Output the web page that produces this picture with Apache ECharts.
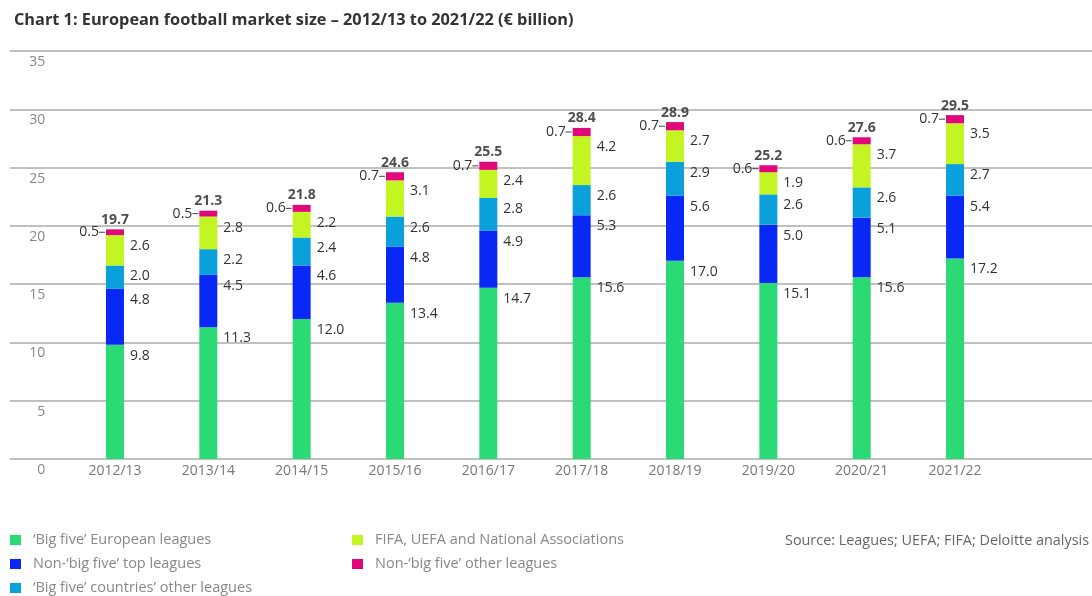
<!DOCTYPE html>
<html>
<head>
<meta charset="utf-8">
<script src="https://cdn.jsdelivr.net/npm/echarts@6/dist/echarts.min.js"></script>
<style>html,body{margin:0;padding:0;background:#fff}#c{width:1092px;height:596px}</style>
</head>
<body>
<div id="c"></div>
<script>
var categories = ['2012/13','2013/14','2014/15','2015/16','2016/17','2017/18','2018/19','2019/20','2020/21','2021/22'];
var bigFive = [9.8, 11.3, 12.0, 13.4, 14.7, 15.6, 17.0, 15.1, 15.6, 17.2];
var nonBigFiveTop = [4.8, 4.5, 4.6, 4.8, 4.9, 5.3, 5.6, 5.0, 5.1, 5.4];
var bigFiveOther = [2.0, 2.2, 2.4, 2.6, 2.8, 2.6, 2.9, 2.6, 2.6, 2.7];
var fifaUefa = [2.6, 2.8, 2.2, 3.1, 2.4, 4.2, 2.7, 1.9, 3.7, 3.5];
var nonBigFiveOther = [0.5, 0.5, 0.6, 0.7, 0.7, 0.7, 0.7, 0.6, 0.6, 0.7];
var totals = [19.7, 21.3, 21.8, 24.6, 25.5, 28.4, 28.9, 25.2, 27.6, 29.5];
var yTicks = [0, 5, 10, 15, 20, 25, 30, 35];

var names = ["\u2018Big five\u2019 European leagues", "Non-\u2018big five\u2019 top leagues", "\u2018Big five\u2019 countries\u2019 other leagues", "FIFA, UEFA and National Associations", "Non-\u2018big five\u2019 other leagues"];
var colors = ['#2bd975', '#0a28f5', '#0aa0dc', '#c3f523', '#e1087a'];
var FONT = '"Open Sans", "Noto Sans", sans-serif';

var sideLabel = {
  show: true,
  position: ['100%', 0],
  align: 'left',
  verticalAlign: 'middle',
  offset: [6, 11],
  fontFamily: FONT,
  fontSize: 14,
  color: '#333',
  formatter: function (p) { return p.value.toFixed(1); }
};

function barSeries(i, data, label) {
  return {
    name: names[i],
    type: 'bar',
    stack: 'total',
    xAxisIndex: 1,
    yAxisIndex: 1,
    barWidth: 18,
    data: data,
    itemStyle: { color: colors[i] },
    label: label,
    emphasis: { disabled: true },
    animation: false
  };
}

var legendCommon = {
  orient: 'vertical',
  top: 531.5,
  padding: 0,
  height: 90,
  itemWidth: 11, itemHeight: 10, itemGap: 7,
  icon: 'rect',
  textStyle: { fontFamily: FONT, fontSize: 14.5, color: '#888', padding: [0, 0, 0, 7], lineHeight: 17 },
  selectedMode: false
};

var chart = echarts.init(document.getElementById('c'), null, { renderer: 'canvas' });
chart.setOption({
  animation: false,
  textStyle: { fontFamily: FONT },
  title: [{
    text: 'Chart 1: European football market size \u2013 2012/13 to 2021/22 (\u20ac billion)',
    left: 9, top: 7,
    textStyle: { fontFamily: FONT, fontSize: 16.3, fontWeight: 'bold', color: '#333' }
  }, {
    text: 'Source: Leagues; UEFA; FIFA; Deloitte analysis',
    left: 780, top: 529,
    textStyle: { fontFamily: FONT, fontSize: 14.4, fontWeight: 'normal', color: '#666' }
  }],
  legend: [
    Object.assign({}, legendCommon, { data: names.slice(0, 3), left: 10 }),
    Object.assign({}, legendCommon, { data: names.slice(3), left: 352 })
  ],
  grid: [
    { left: 10, right: 0, top: 51, bottom: 137 },
    { left: 68.3, right: 90.3, top: 51, bottom: 137 }
  ],
  xAxis: [
    { gridIndex: 0, type: 'value', show: false, min: 0, max: 1 },
    {
      gridIndex: 1, type: 'category', data: categories,
      axisLine: { show: false }, axisTick: { show: false },
      axisLabel: { fontFamily: FONT, fontSize: 14, color: '#777', margin: 5 }
    }
  ],
  yAxis: [
    {
      gridIndex: 0, type: 'value', min: yTicks[0], max: yTicks[yTicks.length - 1], interval: 5,
      axisLine: { show: false }, axisTick: { show: false }, axisLabel: { show: false },
      splitLine: { show: true, lineStyle: { color: '#ababab', width: 1.5 } }
    },
    {
      gridIndex: 1, type: 'value', min: yTicks[0], max: yTicks[yTicks.length - 1], interval: 5,
      axisLine: { show: false }, axisTick: { show: false }, splitLine: { show: false },
      axisLabel: { fontFamily: FONT, fontSize: 14, color: '#888', margin: 23, verticalAlign: 'top', padding: [4, 0, 0, 0] }
    }
  ],
  series: [
    barSeries(0, bigFive, sideLabel),
    barSeries(1, nonBigFiveTop, sideLabel),
    barSeries(2, bigFiveOther, sideLabel),
    barSeries(3, fifaUefa, sideLabel),
    barSeries(4, nonBigFiveOther, {
      show: true,
      position: 'left',
      distance: 1,
      formatter: function (p) { return '{v|' + p.value.toFixed(1) + '}{l|}'; },
      rich: {
        v: { fontFamily: FONT, fontSize: 14, color: '#333' },
        l: { width: 6, height: 1, backgroundColor: '#444' }
      }
    }),
    {
      type: 'scatter',
      xAxisIndex: 1, yAxisIndex: 1,
      data: totals,
      symbolSize: 1,
      itemStyle: { color: 'rgba(0,0,0,0)' },
      label: {
        show: true, position: 'top', distance: 2,
        fontFamily: FONT, fontSize: 14, fontWeight: 'bold', color: '#222',
        formatter: function (p) { return p.value.toFixed(1); }
      },
      z: 10,
      emphasis: { disabled: true },
      animation: false
    }
  ]
});
</script>
</body>
</html>
